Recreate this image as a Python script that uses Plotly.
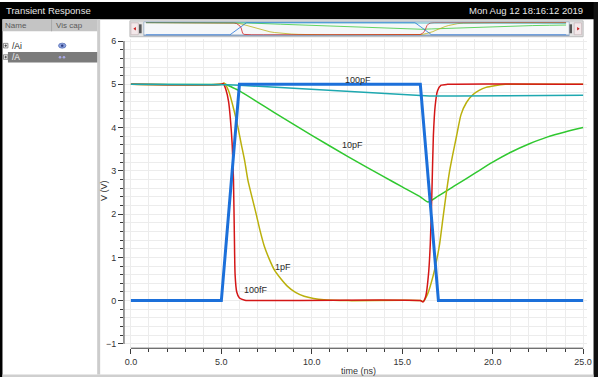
import plotly.graph_objects as go

W, H = 603, 378

# ---------------- data ----------------
t_vin = [0, 5, 6, 16, 17, 25]
v_vin = [0, 0, 5, 5, 0, 0]

t_100f = [0, 5.0, 5.1, 5.25, 5.4, 5.5, 5.6, 5.67, 5.72, 5.76, 5.85, 6.0, 6.3, 7.0,
          16.0, 16.15, 16.3, 16.45, 16.55, 16.64, 16.72, 16.82, 16.95, 17.15, 17.5, 25]
v_100f = [5, 5.0, 5.02, 4.88, 4.6, 4.2, 3.6, 2.8, 1.5, 0.6, 0.2, 0.06, 0.01, 0.0,
          0.0, -0.03, 0.1, 0.6, 1.3, 2.5, 3.8, 4.5, 4.85, 4.98, 5.0, 5.0]

t_1p = [0, 5.0, 5.15, 5.4, 5.7, 5.92, 6.1, 6.29, 6.47, 6.7, 6.92, 7.15, 7.38, 7.65, 7.93, 8.3, 8.66,
        9.1, 9.58, 10.1, 10.67, 12.0,
        16.0, 16.15, 16.4, 16.7, 16.9, 17.07, 17.25, 17.43, 17.6, 17.8, 18.0, 18.25, 18.55, 18.9,
        19.25, 19.63, 20.1, 20.7, 22.0, 25]
v_1p = [5, 5.0, 5.03, 4.85, 4.4, 4.0, 3.62, 3.23, 2.78, 2.38, 2.01, 1.6, 1.25, 0.96, 0.71, 0.5, 0.33,
        0.19, 0.1, 0.05, 0.02, 0.0,
        0.0, -0.02, 0.15, 0.56, 0.93, 1.32, 1.9, 2.47, 2.95, 3.39, 3.8, 4.3, 4.58, 4.76,
        4.86, 4.93, 4.97, 5.0, 5.0, 5.0]

t_10p = [0, 5.0, 5.2, 5.5, 6.0, 8.0, 10.0, 12.0, 14.0, 15.0, 16.0, 16.42,
         17.0, 18.0, 19.0, 20.0, 21.0, 22.0, 23.0, 24.0, 25.0]
v_10p = [5, 5.0, 5.01, 4.95, 4.85, 4.33, 3.82, 3.33, 2.86, 2.63, 2.4, 2.28,
         2.42, 2.68, 2.94, 3.2, 3.43, 3.62, 3.78, 3.9, 4.0]

t_100p = [0, 5.0, 5.3, 6.0, 10.0, 14.0, 16.0, 16.5, 18.0, 20.0, 25.0]
v_100p = [5, 5.0, 4.99, 4.98, 4.89, 4.8, 4.75, 4.73, 4.73, 4.74, 4.75]

curve_labels = ["100pF", "10pF", "1pF", "100fF"]
label_t = [12.56, 12.23, 8.4, 6.9]
label_v = [5.09, 3.59, 0.78, 0.24]

x_ticks_major = 5
x_ticks_minor = 1
y_ticks_major = 1
y_ticks_minor = 0.2

# ---------------- styles ----------------
C_BLUE = "rgb(28,112,218)"
C_RED = "rgb(212,22,22)"
C_OLIVE = "rgb(186,176,12)"
C_GREEN = "rgb(48,200,48)"
C_TEAL = "rgb(30,168,176)"
GRID = "#ececec"
FONT = "Liberation Sans, Arial, sans-serif"


def px(x):
    return x / W


def py(y):
    return 1 - y / H


fig = go.Figure()

# drawing order: bottom to top
series = [
    (t_10p, v_10p, C_GREEN, 1.5, "spline"),
    (t_1p, v_1p, C_OLIVE, 1.5, "spline"),
    (t_100f, v_100f, C_RED, 1.5, "spline"),
    (t_100p, v_100p, C_TEAL, 1.5, "linear"),
    (t_vin, v_vin, C_BLUE, 3, "linear"),
]

for t, v, c, w, sh in series:
    fig.add_trace(go.Scatter(x=t, y=v, mode="lines",
                             line=dict(color=c, width=w, shape=sh, smoothing=0.6 if sh == "spline" else None),
                             showlegend=False, hoverinfo="skip", xaxis="x", yaxis="y"))
# overview strip
for t, v, c, w, sh in series:
    fig.add_trace(go.Scatter(x=t, y=v, mode="lines", line=dict(color=c, width=1),
                             opacity=0.75, showlegend=False, hoverinfo="skip",
                             xaxis="x2", yaxis="y2"))

x0p, x25p = 132, 588
xs = (x25p - x0p) / 25.0
y0p, ys = 301, 43.6
left_px, right_px, top_px, bot_px = 125, 592, 37, 349

shapes = []
annotations = []

# ---- window chrome ----
shapes.append(dict(type="rect", xref="paper", yref="paper", x0=0, x1=1, y0=py(17.5), y1=1,
                   fillcolor="black", line=dict(width=0), layer="below"))
shapes.append(dict(type="rect", xref="paper", yref="paper", x0=0, x1=px(2.5), y0=0, y1=1,
                   fillcolor="black", line=dict(width=0), layer="below"))
shapes.append(dict(type="rect", xref="paper", yref="paper", x0=px(598.5), x1=1, y0=0, y1=1,
                   fillcolor="#111", line=dict(width=0), layer="below"))
shapes.append(dict(type="rect", xref="paper", yref="paper", x0=px(2.5), x1=px(598.5), y0=0, y1=py(375.5),
                   fillcolor="#cfcfcf", line=dict(width=0), layer="below"))
# left panel separator
shapes.append(dict(type="rect", xref="paper", yref="paper", x0=px(98), x1=px(101), y0=py(375.5), y1=py(17.5),
                   fillcolor="#cccccc", line=dict(width=0), layer="below"))
# header
shapes.append(dict(type="rect", xref="paper", yref="paper", x0=px(2.5), x1=px(98), y0=py(29.5), y1=py(17.5),
                   fillcolor="#c4c4c4", line=dict(width=0), layer="below"))
shapes.append(dict(type="line", xref="paper", yref="paper", x0=px(52), x1=px(52), y0=py(29.5), y1=py(17.5),
                   line=dict(color="#a8a8a8", width=1), layer="below"))
# selected row
shapes.append(dict(type="rect", xref="paper", yref="paper", x0=px(8), x1=px(98), y0=py(61), y1=py(50.5),
                   fillcolor="#7b7b7b", line=dict(width=0), layer="below"))
# eye icon
shapes.append(dict(type="circle", xref="paper", yref="paper", x0=px(59), x1=px(66.5), y0=py(46.5), y1=py(41.5),
                   fillcolor="#8aa0dc", line=dict(color="#5a72b8", width=0.8)))
shapes.append(dict(type="circle", xref="paper", yref="paper", x0=px(61.5), x1=px(64), y0=py(45.2), y1=py(42.8),
                   fillcolor="#2a3a80", line=dict(width=0)))
for cx in (60.5, 64.5):
    shapes.append(dict(type="circle", xref="paper", yref="paper", x0=px(cx - 1.3), x1=px(cx + 1.3),
                       y0=py(57), y1=py(54.4), fillcolor="#a9a9e6", line=dict(width=0)))
# expand boxes
for yc in (44, 55.5):
    shapes.append(dict(type="rect", xref="paper", yref="paper", x0=px(3.5), x1=px(8), y0=py(yc + 2.3), y1=py(yc - 2.3),
                       fillcolor="#f4f4f4", line=dict(color="#777", width=0.8)))
    shapes.append(dict(type="line", xref="paper", yref="paper", x0=px(4.5), x1=px(7), y0=py(yc), y1=py(yc),
                       line=dict(color="#333", width=0.8)))
    shapes.append(dict(type="line", xref="paper", yref="paper", x0=px(5.75), x1=px(5.75), y0=py(yc - 1.3), y1=py(yc + 1.3),
                       line=dict(color="#333", width=0.8)))

# ---- overview strip ----
shapes.append(dict(type="rect", xref="paper", yref="paper", x0=px(131), x1=px(588), y0=py(35), y1=py(19),
                   fillcolor="#e2e2e2", line=dict(color="#bdbdbd", width=1), layer="below"))
shapes.append(dict(type="rect", xref="paper", yref="paper", x0=px(145), x1=px(574), y0=py(34), y1=py(20),
                   fillcolor="#f5f7f9", line=dict(color="#a6b8cc", width=1), layer="below"))
shapes.append(dict(type="line", xref="paper", yref="paper", x0=px(145), x1=px(574), y0=py(33.5), y1=py(33.5),
                   line=dict(color="#8ea6c4", width=1.5), layer="below"))
for hx in (141.5, 575.5):
    shapes.append(dict(type="rect", xref="paper", yref="paper", x0=px(hx - 1.3), x1=px(hx + 1.3), y0=py(31.5), y1=py(22.5),
                       fillcolor="#555", line=dict(width=0)))
for bx in (132, 579):
    shapes.append(dict(type="rect", xref="paper", yref="paper", x0=px(bx), x1=px(bx + 7.5), y0=py(33), y1=py(21),
                       fillcolor="#f3e8ea", line=dict(color="#c9b9bc", width=0.8)))
shapes.append(dict(type="path", xref="paper", yref="paper",
                   path=f"M {px(134.5)} {py(27)} L {px(137)} {py(25.3)} L {px(137)} {py(28.7)} Z",
                   fillcolor="#c81818", line=dict(width=0)))
shapes.append(dict(type="path", xref="paper", yref="paper",
                   path=f"M {px(584.5)} {py(27)} L {px(582)} {py(25.3)} L {px(582)} {py(28.7)} Z",
                   fillcolor="#c81818", line=dict(width=0)))

# ---- main plot axes lines & left grid cover ----
shapes.append(dict(type="rect", xref="paper", yref="paper", x0=px(left_px + 0.5), x1=px(x0p - 0.6),
                   y0=py(bot_px - 0.5), y1=py(top_px), fillcolor="white", line=dict(width=0), layer="between"))
shapes.append(dict(type="line", xref="x", yref="paper", x0=0, x1=25, y0=py(bot_px), y1=py(bot_px),
                   line=dict(color="#3a3a3a", width=1)))
shapes.append(dict(type="line", xref="paper", yref="y", x0=px(left_px), x1=px(left_px), y0=-1, y1=6,
                   line=dict(color="#3a3a3a", width=1)))

# ---- texts ----
annotations += [
    dict(text="Transient Response", x=px(4), y=py(9), xref="paper", yref="paper", xanchor="left",
         yanchor="middle", showarrow=False, font=dict(family=FONT, size=9.5, color="#e6e6e6")),
    dict(text="Mon Aug 12 18:16:12 2019", x=px(590), y=py(9), xref="paper", yref="paper", xanchor="right",
         yanchor="middle", showarrow=False, font=dict(family=FONT, size=9.5, color="#e6e6e6")),
    dict(text="Name", x=px(3), y=py(23.5), xref="paper", yref="paper", xanchor="left",
         yanchor="middle", showarrow=False, font=dict(family=FONT, size=8, color="#5a5a5a")),
    dict(text="Vis cap", x=px(54), y=py(23.5), xref="paper", yref="paper", xanchor="left",
         yanchor="middle", showarrow=False, font=dict(family=FONT, size=8, color="#5a5a5a")),
    dict(text="/Ai", x=px(10), y=py(44), xref="paper", yref="paper", xanchor="left",
         yanchor="middle", showarrow=False, font=dict(family=FONT, size=8.5, color="#222")),
    dict(text="/A", x=px(10), y=py(55.5), xref="paper", yref="paper", xanchor="left",
         yanchor="middle", showarrow=False, font=dict(family=FONT, size=8.5, color="#f2f2f2")),
    dict(text="V (V)", x=px(105.5), y=py(190), xref="paper", yref="paper", xanchor="center",
         yanchor="middle", textangle=-90, showarrow=False, font=dict(family=FONT, size=9, color="#333")),
    dict(text="time (ns)", x=px(361), y=py(371.5), xref="paper", yref="paper", xanchor="center",
         yanchor="middle", showarrow=False, font=dict(family=FONT, size=9, color="#333")),
]
for txt, tx, tv in zip(curve_labels, label_t, label_v):
    annotations.append(dict(text=txt, x=tx, y=tv, xref="x", yref="y", xanchor="center", yanchor="middle",
                            showarrow=False, font=dict(family=FONT, size=9, color="#2a2a2a")))

x_lo = -(x0p - left_px) / xs
x_hi = 25 + (right_px - x25p) / xs
y_lo = -(bot_px - y0p) / ys
y_hi = (y0p - top_px) / ys

fig.update_layout(
    width=W, height=H, autosize=False,
    margin=dict(l=0, r=0, t=0, b=0, pad=0),
    paper_bgcolor="white", plot_bgcolor="rgba(0,0,0,0)",
    font=dict(family=FONT, size=9, color="#333"),
    xaxis=dict(domain=[px(left_px), px(right_px)], range=[x_lo, x_hi], anchor="y",
               tickmode="linear", tick0=0, dtick=x_ticks_major, tickformat=".1f",
               ticks="outside", ticklen=5, tickcolor="#3a3a3a", tickwidth=1,
               showline=False, zeroline=False, showgrid=True, gridcolor=GRID, gridwidth=1,
               minor=dict(tick0=0, dtick=x_ticks_minor, ticks="outside", ticklen=3, tickcolor="#3a3a3a",
                          showgrid=True, gridcolor=GRID, gridwidth=1),
               tickfont=dict(family=FONT, size=9, color="#333"), fixedrange=True),
    yaxis=dict(domain=[py(bot_px), py(top_px)], range=[y_lo, y_hi], anchor="x",
               tickmode="linear", tick0=0, dtick=y_ticks_major,
               ticks="outside", ticklen=5, tickcolor="#3a3a3a", tickwidth=1,
               showline=False, zeroline=False, showgrid=True, gridcolor=GRID, gridwidth=1,
               minor=dict(tick0=0, dtick=y_ticks_minor, ticks="outside", ticklen=3, tickcolor="#3a3a3a",
                          showgrid=True, gridcolor=GRID, gridwidth=1),
               tickfont=dict(family=FONT, size=9, color="#333"), fixedrange=True),
    xaxis2=dict(domain=[px(147), px(571)], range=[0, 25], anchor="y2", visible=False, fixedrange=True),
    yaxis2=dict(domain=[py(33.5), py(20.5)], range=[-0.15, 5.1], anchor="x2", visible=False, fixedrange=True),
    shapes=shapes,
    annotations=annotations,
)

fig.write_html(
    "out.html",
    config={"displayModeBar": False, "staticPlot": True},
    post_script="document.body.style.margin='0';document.body.style.padding='0';"
                "document.body.style.overflow='hidden';",
)
